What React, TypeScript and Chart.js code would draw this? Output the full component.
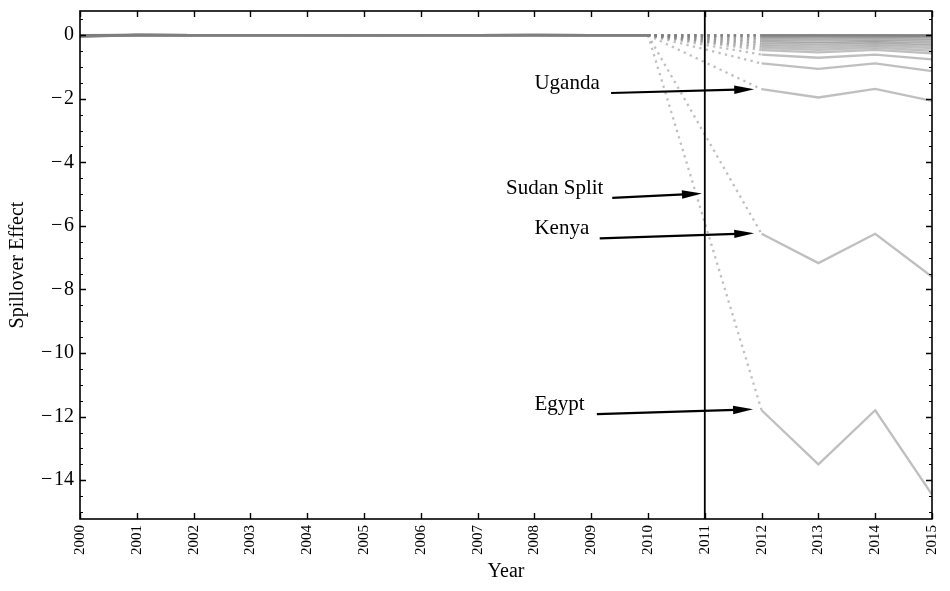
import React, { useEffect, useRef } from "react";
import { Chart, registerables } from "chart.js";

Chart.register(...registerables);

// ---------------- data ----------------
const YEARS = [2000, 2001, 2002, 2003, 2004, 2005, 2006, 2007, 2008, 2009, 2010, 2011, 2012, 2013, 2014, 2015];

// spillover effect per country (2011 = missing, the split year)
const egypt = [-0.06, 0.01, 0, 0, 0, 0, 0, 0, 0.01, 0, 0, null, -11.8, -13.5, -11.8, -14.45];
const kenya = [-0.04, 0.01, 0, 0, 0, -0.01, 0, 0, 0.01, 0, 0, null, -6.25, -7.17, -6.25, -7.6];
const uganda = [-0.02, 0.01, 0, 0, 0, 0, 0, 0, 0.01, 0, 0, null, -1.7, -1.96, -1.69, -2.07];
const ethiopia = [-0.05, 0.01, 0, 0, 0, -0.01, 0, 0, 0, 0, 0, null, -0.89, -1.06, -0.89, -1.13];
const chad = [-0.03, 0.01, 0, 0, 0, 0, 0, 0, 0.01, 0, 0, null, -0.61, -0.71, -0.61, -0.76];
const car = [-0.02, 0, 0, 0, 0, 0, 0, 0, 0, 0, 0, null, -0.47, -0.54, -0.46, -0.57];
const drcongo = [-0.01, 0.01, 0, 0, 0, 0, 0, 0, 0, 0, 0, null, -0.4, -0.46, -0.39, -0.49];
const eritrea = [-0.02, 0, 0, 0, 0, 0, 0, 0, 0.01, 0, 0, null, -0.34, -0.39, -0.33, -0.41];
const libya = [-0.01, 0.01, 0, 0, 0, 0, 0, 0, 0, 0, 0, null, -0.28, -0.32, -0.27, -0.34];
const tanzania = [0, 0, 0, 0, 0, 0, 0, 0, 0, 0, 0, null, -0.23, -0.26, -0.22, -0.28];
const rwanda = [0, 0.01, 0, 0, 0, 0, 0, 0, 0, 0, 0, null, -0.18, -0.21, -0.18, -0.22];
const burundi = [-0.01, 0, 0, 0, 0, 0, 0, 0, 0, 0, 0, null, -0.13, -0.15, -0.13, -0.16];
const niger = [0, 0, 0, 0, 0, 0, 0, 0, 0, 0, 0, null, -0.09, -0.1, -0.09, -0.11];
const nigeria = [0, 0.01, 0, 0, 0, 0, 0, 0, 0, 0, 0, null, -0.05, -0.06, -0.05, -0.06];
const cameroon = [0, 0, 0, 0, 0, 0, 0, 0, 0, 0, 0, null, -0.03, -0.03, -0.03, -0.04];
const somalia = [0, 0, 0, 0, 0, 0, 0, 0, 0, 0, 0, null, -0.01, -0.01, -0.01, -0.02];
const djibouti = [0, 0, 0, 0, 0, 0, 0, 0, 0, 0, 0, null, 0, 0, 0, -0.01];
const zambia = [0, 0, 0, 0, 0, 0, 0, 0, 0, 0, 0, null, 0, 0, 0, 0];
const malawi = [0, 0, 0, 0, 0, 0, 0, 0, 0, 0, 0, null, 0, 0, 0, 0];

const COUNTRY_NAMES = [
  "Egypt", "Kenya", "Uganda", "Ethiopia", "Chad", "Central African Republic", "DR Congo", "Eritrea",
  "Libya", "Tanzania", "Rwanda", "Burundi", "Niger", "Nigeria", "Cameroon", "Somalia", "Djibouti",
  "Zambia", "Malawi",
];
const COUNTRY_VALUES = [
  egypt, kenya, uganda, ethiopia, chad, car, drcongo, eritrea, libya, tanzania, rwanda, burundi,
  niger, nigeria, cameroon, somalia, djibouti, zambia, malawi,
];

const Y_TICKS = [0, -2, -4, -6, -8, -10, -12, -14];
const Y_MIN = -15.22;
const Y_MAX = 0.76;
const X_MIN = 2000;
const X_MAX = 2015;
const SPLIT_YEAR = 2011;
const GAP_START_YEAR = 2010;

// annotations
const ANNOT_TEXT = ["Uganda", "Sudan Split", "Kenya", "Egypt"];
const ANNOT_TEXT_X = [2008, 2007.5, 2008, 2008];
const ANNOT_TEXT_Y = [-1.7, -5, -6.25, -11.8];
const ARROW_FROM_X = [2009.35, 2009.37, 2009.15, 2009.1];
const ARROW_FROM_Y = [-1.82, -5.12, -6.39, -11.92];
const ARROW_TO_X = [2011.87, 2010.95, 2011.87, 2011.85];
const ARROW_TO_Y = [-1.7, -4.98, -6.23, -11.77];

// ---------------- styles ----------------
const FONT = '"Liberation Serif", "Times New Roman", serif';
const LINE_COLOR = "rgba(128,128,128,0.5)";
const LINE_WIDTH = 2.3;
const DOT_DASH = [2.3, 4.3];

const fmtY = (v: number) => (v < 0 ? "\u2212\u200A" + Math.abs(v) : String(v));

const overlayPlugin = {
  id: "overlay",
  afterDatasetsDraw(chart: any) {
    const { ctx, chartArea: a, scales } = chart;
    const x = scales.x;
    const y = scales.y;
    ctx.save();

    // split vertical line
    const sx = x.getPixelForValue(SPLIT_YEAR);
    ctx.strokeStyle = "#000";
    ctx.lineWidth = 1.8;
    ctx.beginPath();
    ctx.moveTo(sx, a.top);
    ctx.lineTo(sx, a.bottom);
    ctx.stroke();

    // frame
    ctx.lineWidth = 1.6;
    ctx.strokeRect(a.left, a.top, a.right - a.left, a.bottom - a.top);

    // inward ticks
    ctx.lineWidth = 1.4;
    ctx.beginPath();
    for (const t of x.ticks) {
      const px = Math.round(x.getPixelForValue(t.value)) + 0.5;
      ctx.moveTo(px, a.bottom);
      ctx.lineTo(px, a.bottom - 6);
      ctx.moveTo(px, a.top);
      ctx.lineTo(px, a.top + 6);
    }
    for (const v of Y_TICKS) {
      const py = Math.round(y.getPixelForValue(v)) + 0.5;
      ctx.moveTo(a.left, py);
      ctx.lineTo(a.left + 6, py);
      ctx.moveTo(a.right, py);
      ctx.lineTo(a.right - 6, py);
    }
    ctx.stroke();
    ctx.lineWidth = 1;
    ctx.beginPath();
    for (let k = Math.ceil(Y_MIN / 0.5); k * 0.5 <= Y_MAX; k++) {
      const v = k * 0.5;
      if (Y_TICKS.includes(v)) continue;
      const py = Math.round(y.getPixelForValue(v)) + 0.5;
      ctx.moveTo(a.left, py);
      ctx.lineTo(a.left + 3, py);
      ctx.moveTo(a.right, py);
      ctx.lineTo(a.right - 3, py);
    }
    ctx.stroke();

    // arrows
    ctx.fillStyle = "#000";
    ctx.strokeStyle = "#000";
    for (let i = 0; i < ANNOT_TEXT.length; i++) {
      const x0 = x.getPixelForValue(ARROW_FROM_X[i]);
      const y0 = y.getPixelForValue(ARROW_FROM_Y[i]);
      const x1 = x.getPixelForValue(ARROW_TO_X[i]);
      const y1 = y.getPixelForValue(ARROW_TO_Y[i]);
      const ang = Math.atan2(y1 - y0, x1 - x0);
      const headLen = 20;
      const headHalf = 4.2;
      const bx = x1 - headLen * Math.cos(ang);
      const by = y1 - headLen * Math.sin(ang);
      ctx.lineWidth = 2.2;
      ctx.beginPath();
      ctx.moveTo(x0, y0);
      ctx.lineTo(bx + 2 * Math.cos(ang), by + 2 * Math.sin(ang));
      ctx.stroke();
      ctx.beginPath();
      ctx.moveTo(x1, y1);
      ctx.lineTo(bx - headHalf * Math.sin(ang), by + headHalf * Math.cos(ang));
      ctx.lineTo(bx + headHalf * Math.sin(ang), by - headHalf * Math.cos(ang));
      ctx.closePath();
      ctx.fill();
    }

    // labels
    ctx.font = `21px ${FONT}`;
    ctx.textAlign = "left";
    ctx.textBaseline = "alphabetic";
    for (let i = 0; i < ANNOT_TEXT.length; i++) {
      ctx.fillText(ANNOT_TEXT[i], x.getPixelForValue(ANNOT_TEXT_X[i]), y.getPixelForValue(ANNOT_TEXT_Y[i]));
    }
    ctx.restore();
  },
};

export default function App() {
  const ref = useRef<HTMLCanvasElement | null>(null);

  useEffect(() => {
    if (!ref.current) return;
    Chart.defaults.font.family = FONT;
    const datasets = COUNTRY_VALUES.map((vals, i) => ({
      label: COUNTRY_NAMES[i],
      // the missing split year (null) is left out, so 2010 joins 2012 directly
      data: YEARS.map((yr, j) => ({ x: yr, y: vals[j] })).filter((p) => p.y !== null),
      borderColor: LINE_COLOR,
      borderWidth: LINE_WIDTH,
      pointRadius: 0,
      pointHoverRadius: 0,
      pointHitRadius: 0,
      fill: false,
      tension: 0,
      borderCapStyle: "butt" as const,
      borderJoinStyle: "miter" as const,
      segment: {
        borderDash: (c: any) => (c.p0.parsed.x === GAP_START_YEAR ? DOT_DASH : undefined),
      },
    }));

    const chart = new Chart(ref.current, {
      type: "line",
      data: { datasets },
      plugins: [overlayPlugin],
      options: {
        responsive: false,
        animation: false,
        events: [],
        layout: { padding: { left: 0, right: 18, top: 11, bottom: 0 } },
        plugins: { legend: { display: false }, tooltip: { enabled: false } },
        scales: {
          x: {
            type: "linear",
            min: X_MIN,
            max: X_MAX,
            grid: { display: false, drawTicks: false },
            border: { display: false },
            afterFit: (s: any) => {
              s.height = 72;
              s.paddingLeft = 0;
              s.paddingRight = 0;
            },
            ticks: {
              stepSize: 1,
              autoSkip: false,
              maxRotation: 90,
              minRotation: 90,
              padding: 6,
              color: "#000",
              font: { size: 15 },
              callback: (v: any) => String(v),
            },
            title: {
              display: true,
              text: "Year",
              color: "#000",
              font: { size: 20 },
              padding: { top: 0, bottom: 7 },
            },
          },
          y: {
            type: "linear",
            min: Y_MIN,
            max: Y_MAX,
            grid: { display: false, drawTicks: false },
            border: { display: false },
            afterBuildTicks: (s: any) => {
              s.ticks = Y_TICKS.map((v) => ({ value: v }));
            },
            afterFit: (s: any) => {
              s.width = 80;
              s.paddingTop = 0;
              s.paddingBottom = 0;
            },
            ticks: {
              padding: 6,
              color: "#000",
              font: { size: 20 },
              callback: (v: any) => fmtY(Number(v)),
            },
            title: {
              display: true,
              text: "Spillover Effect",
              color: "#000",
              font: { size: 20 },
              padding: { top: 6, bottom: 0 },
            },
          },
        },
      },
    });
    return () => chart.destroy();
  }, []);

  return (
    <div style={{ position: "absolute", left: 0, top: 0, width: 950, height: 591, background: "#fff" }}>
      <canvas ref={ref} width={950} height={591} style={{ display: "block" }} />
    </div>
  );
}
